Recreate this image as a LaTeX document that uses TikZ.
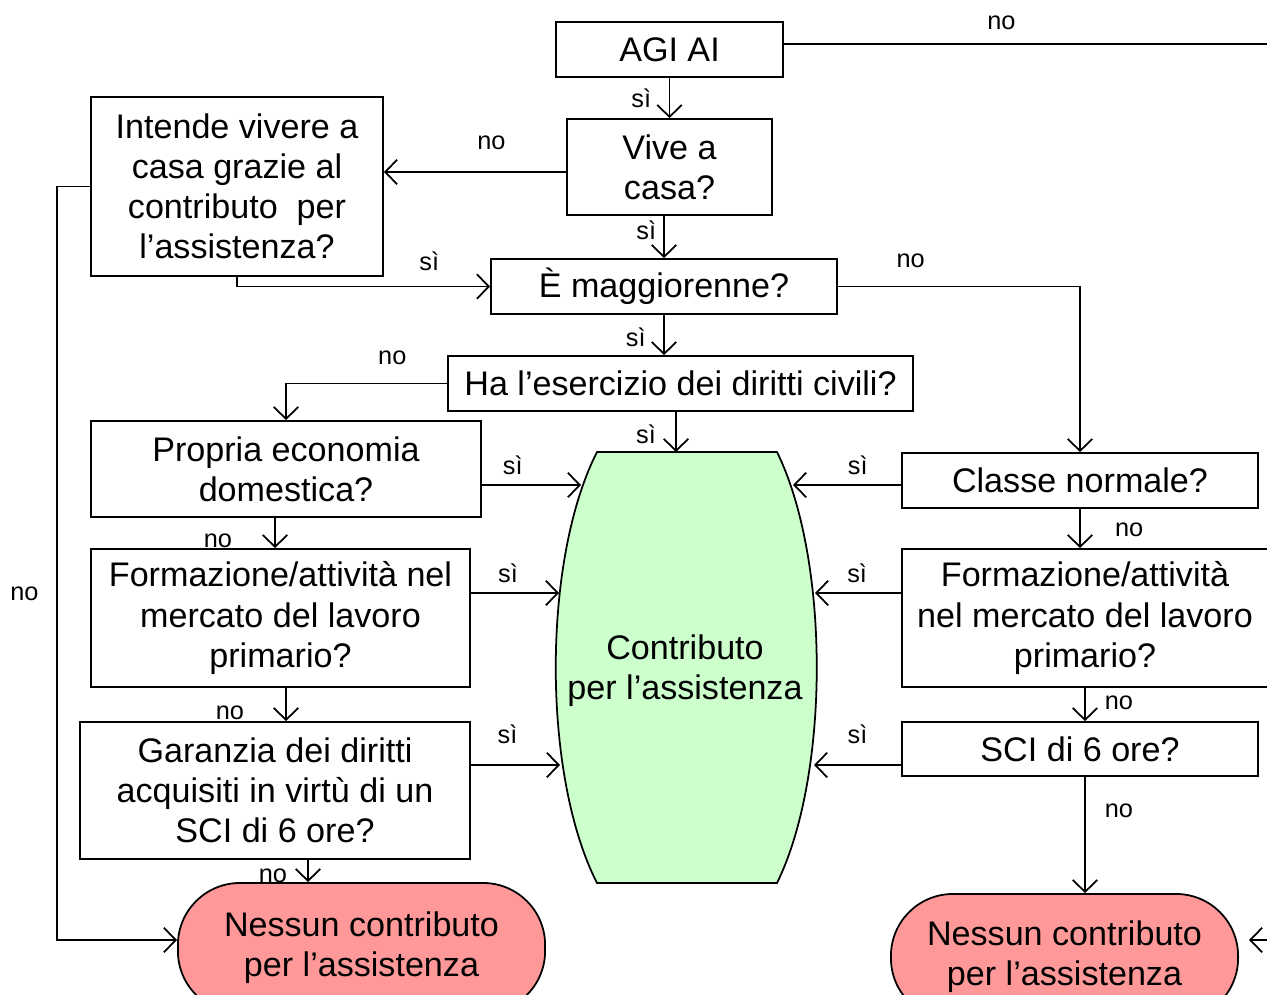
\documentclass[tikz,border=0pt]{standalone}
\usepackage{fontspec}
\setmainfont{Liberation Sans}
\usetikzlibrary{arrows.meta,positioning,calc}
\usepackage{xcolor}
\definecolor{yesgreen}{HTML}{CCFFCC}
\definecolor{nored}{HTML}{FF9999}

\begin{document}
\begin{tikzpicture}[->,>={Straight Barb[length=3.4pt,width=7pt]},x=0.01cm,y=-0.01cm,
      line width=0.5pt,
      main node/.style={rectangle,draw,align=center,inner sep=0pt,
          font=\fontsize{9.7}{11.4}\selectfont},
      end node/.style={main node,fill=nored,rounded corners=0.62cm},
      lbl/.style={font=\fontsize{7.2}{8.6}\selectfont,inner sep=1pt}]

    \useasboundingbox (0,0) rectangle (1267,994);

    % green result shape
    \draw[-,fill=yesgreen] (597,452) -- (777,452)
      .. controls (830,560) and (830,775) .. (777,883) -- (597,883)
      .. controls (542,775) and (542,560) .. cycle;
    \node[align=center,font=\fontsize{9.7}{11.4}\selectfont] (contrib) at (685,671) {Contributo\\per l'assistenza};

    \node[main node,minimum width=2.27cm,minimum height=0.55cm] (agi) at (669.5,49.5) {AGI AI};
    \node[main node,minimum width=2.05cm,minimum height=0.96cm] (vive) at (669.5,167) {Vive a\\casa?};
    \node[main node,minimum width=2.92cm,minimum height=1.79cm] (intende) at (237,186.5) {Intende vivere a\\casa grazie al\\contributo\ \ per\\l'assistenza?};
    \node[main node,minimum width=3.46cm,minimum height=0.55cm] (magg) at (664,286.5) {È maggiorenne?};
    \node[main node,minimum width=4.65cm,minimum height=0.55cm] (civ) at (680.5,383.5) {Ha l'esercizio dei diritti civili?};
    \node[main node,minimum width=3.90cm,minimum height=0.96cm] (econ) at (286,469) {Propria economia\\domestica?};
    \node[main node,minimum width=3.79cm,minimum height=1.38cm] (formL) at (280.5,618) {Formazione/attività nel\\mercato del lavoro\\primario?};
    \node[main node,minimum width=3.90cm,minimum height=1.37cm] (gar) at (275,790.5) {Garanzia dei diritti\\acquisiti in virtù di un\\SCI di 6 ore?};
    \node[main node,minimum width=3.56cm,minimum height=0.55cm] (classe) at (1080,480.5) {Classe normale?};
    \node[main node,minimum width=3.66cm,minimum height=1.38cm] (formR) at (1085,618) {Formazione/attività\\nel mercato del lavoro\\primario?};
    \node[main node,minimum width=3.56cm,minimum height=0.54cm] (sci) at (1080,749) {SCI di 6 ore?};
    \node[end node,minimum width=3.67cm,minimum height=1.30cm] (noneL) at (361.5,948) {Nessun contributo\\per l'assistenza};
    \node[end node,minimum width=3.47cm,minimum height=1.26cm] (noneR) at (1064.5,957) {Nessun contributo\\per l'assistenza};

    \coordinate (exitR) at (1267,44);
    \coordinate (inR) at (1267,940);
    \coordinate (cT) at (676,452);
    \coordinate (cL1) at (581,485);
    \coordinate (cL2) at (559,593);
    \coordinate (cL3) at (560,765);
    \coordinate (cR1) at (793,485);
    \coordinate (cR2) at (815,593);
    \coordinate (cR3) at (814,765);
    \coordinate (garOut) at ($(gar.south)+(33,0)$);

    \draw[-] ($(agi.east)+(0,-5.5)$) -- node[lbl,above=2.8pt,pos=0.45] {no} (exitR);
    \draw (agi) -- node[lbl,left=4pt,pos=0.52] {sì} (vive);
    \draw ($(vive.west)+(0,5)$) -- node[lbl,above=5.1pt,pos=0.41] {no} ($(vive.west -| intende.east)+(0,5)$);
    \draw (vive.south -| magg.north) -- node[lbl,left=1pt,pos=0.34] {sì} (magg.north);
    \draw (intende.south) |- node[lbl,above=3.3pt,pos=0.88] {sì} (magg.west);
    \draw (intende.west) -- ++(-33,0) |- node[lbl,left=4pt,pos=0.27] {no} ($(noneL.west)+(0,-8)$);
    \draw (magg.east) -| node[lbl,above=4pt,pos=0.15] {no} (classe.north);
    \draw (magg.south) -- node[lbl,left=4pt,pos=0.55] {sì} (magg.south |- civ.north);
    \draw (civ.west) -| node[lbl,above=4.1pt,pos=0.17] {no} (econ.north);
    \draw (civ.south -| cT) -- node[lbl,left=4.5pt,pos=0.56] {sì} (cT);

    % left column
    \draw (econ.east |- cL1) -- node[lbl,above=1.8pt,pos=0.31] {sì} (cL1);
    \draw ($(econ.south)+(-11,0)$) -- node[lbl,left=11pt,pos=0.75] {no} ($(formL.north)+(-5.5,0)$);
    \draw (formL.east |- cL2) -- node[lbl,above=1.6pt,pos=0.42] {sì} (cL2);
    \draw ($(formL.south)+(5.5,0)$) -- node[lbl,left=10.7pt,pos=0.74] {no} ($(gar.north)+(11,0)$);
    \draw (gar.east |- cL3) -- node[lbl,above=4.7pt,pos=0.41] {sì} (cL3);
    \draw (garOut) -- node[lbl,left=4.7pt,pos=0.7] {no} (garOut |- noneL.north);

    % right column
    \draw (classe.west |- cR1) -- node[lbl,above=1.8pt,pos=0.40] {sì} (cR1);
    \draw (classe.south) -- node[lbl,right=8.7pt,pos=0.54] {no} (classe.south |- formR.north);
    \draw (formR.west |- cR2) -- node[lbl,above=1.6pt,pos=0.51] {sì} (cR2);
    \draw (formR.south) -- node[lbl,right=4.4pt,pos=0.46] {no} (formR.south |- sci.north);
    \draw (sci.west |- cR3) -- node[lbl,above=4.7pt,pos=0.5] {sì} (cR3);
    \draw (formR.south |- sci.south) -- node[lbl,right=4.4pt,pos=0.29] {no} (formR.south |- noneR.north);
    \draw[shorten >=0.1cm] (inR) -- (noneR.east |- inR);

  \end{tikzpicture}
\end{document}
